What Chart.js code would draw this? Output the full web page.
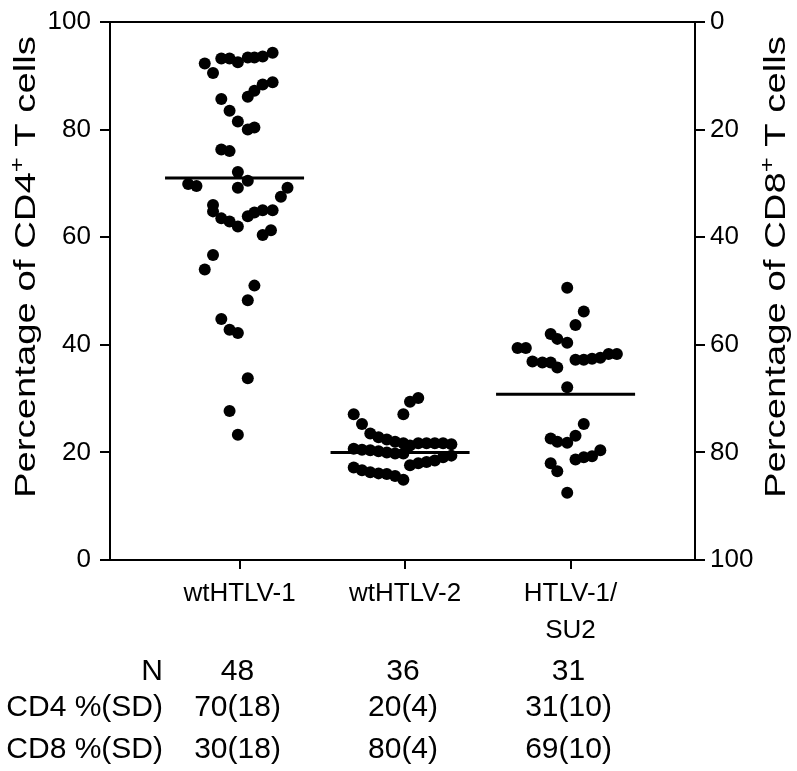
<!DOCTYPE html>
<html>
<head>
<meta charset="utf-8">
<script src="https://cdn.jsdelivr.net/npm/chart.js@4.4.0/dist/chart.umd.min.js"></script>
<style>
  body { margin: 0; background: #fff; }
  #wrap { width: 797px; height: 771px; }
</style>
</head>
<body>
<div id="wrap"><canvas id="chart" width="797" height="771"></canvas></div>
<script>
// categories and values
const categories = ["wtHTLV-1", "wtHTLV-2", ["HTLV-1/", "SU2"]];

// wtHTLV-1, % CD4+ T cells, with horizontal jitter (fraction of category spacing)
const wt1Values = [92.3, 90.5, 93.2, 93.2, 92.5, 93.4, 93.4, 93.6, 94.3, 85.7, 83.5, 81.5,
  80.0, 80.4, 86.1, 87.2, 88.4, 88.8, 76.3, 76.0, 72.1, 70.5, 69.2, 69.9, 69.5, 69.2, 67.5,
  66.0, 64.8, 63.5, 62.9, 62.0, 63.9, 64.6, 65.0, 65.0, 60.4, 61.3, 56.7, 54.0, 51.0, 48.3,
  44.8, 42.8, 42.2, 33.8, 27.7, 23.3];
const wt1Offsets = [-0.21, -0.16, -0.11, -0.06, -0.01, 0.05, 0.09, 0.14, 0.20, -0.11, -0.06, -0.01,
  0.05, 0.09, 0.05, 0.09, 0.14, 0.20, -0.11, -0.06, -0.01, 0.05, -0.01, -0.31, -0.26, 0.29, 0.25,
  -0.16, -0.16, -0.11, -0.06, -0.01, 0.05, 0.09, 0.14, 0.20, 0.14, 0.19, -0.16, -0.21, 0.09, 0.05,
  -0.11, -0.06, -0.01, 0.05, -0.06, -0.01];

// wtHTLV-2
const wt2Values = [27.1, 25.3, 27.1, 29.4, 30.1, 23.5, 22.8, 22.4, 22.0, 21.7, 21.3, 21.7,
  21.7, 21.7, 21.7, 21.5, 20.7, 20.5, 20.4, 20.2, 20.0, 19.8, 19.8, 17.6, 18.0, 18.2, 18.5,
  19.1, 19.4, 17.2, 16.7, 16.3, 16.1, 16.0, 15.6, 14.9];
const wt2Offsets = [-0.31, -0.26, -0.01, 0.03, 0.08, -0.21, -0.16, -0.11, -0.06, -0.01, 0.03, 0.08,
  0.13, 0.18, 0.23, 0.28, -0.31, -0.26, -0.21, -0.16, -0.11, -0.06, -0.01, 0.03, 0.08, 0.13, 0.18,
  0.23, 0.28, -0.31, -0.26, -0.21, -0.16, -0.11, -0.06, -0.01];

// HTLV-1/SU2
const su2Values = [50.6, 46.2, 43.7, 42.0, 41.1, 40.4, 39.4, 39.4, 36.9, 36.7, 36.7, 35.8,
  37.2, 37.2, 37.4, 37.6, 38.3, 38.3, 32.1, 25.3, 22.6, 22.0, 21.8, 23.1, 18.7, 19.1, 19.3,
  20.4, 18.0, 16.5, 12.5];
const su2Offsets = [-0.02, 0.08, 0.03, -0.12, -0.08, -0.02, -0.32, -0.27, -0.23, -0.17, -0.12, -0.08,
  0.03, 0.08, 0.13, 0.18, 0.23, 0.28, -0.02, 0.08, -0.12, -0.08, -0.02, 0.03, 0.03, 0.08, 0.13,
  0.18, -0.12, -0.08, -0.02];

const meanValues = [71.0, 20.0, 30.8];

// table under the plot
const rowLabels = ["N", "CD4 %(SD)", "CD8 %(SD)"];
const nCounts = ["48", "36", "31"];
const cd4Stats = ["70(18)", "20(4)", "31(10)"];
const cd8Stats = ["30(18)", "80(4)", "69(10)"];
const tableRows = [nCounts, cd4Stats, cd8Stats];

const FONT = "'Liberation Sans', Arial, Helvetica, sans-serif";

function toPoints(values, offsets, cat) {
  return values.map((v, i) => ({ x: cat + offsets[i], y: v }));
}

const dotStyle = {
  type: "scatter",
  backgroundColor: "#000",
  borderWidth: 0,
  pointRadius: 6,
  pointHoverRadius: 6,
};

const meanSets = meanValues.map((m, i) => ({
  type: "line",
  data: [{ x: i + 1 - 0.45, y: m }, { x: i + 1 + 0.39, y: m }],
  borderColor: "#000",
  borderWidth: 3,
  pointRadius: 0,
  showLine: true,
}));

// axis titles (rotated, with superscript +) and the stats table
const extras = {
  id: "extras",
  afterDraw(chart) {
    const ctx = chart.ctx;
    const area = chart.chartArea;
    const x = chart.scales.x;

    // top frame line
    ctx.save();
    ctx.strokeStyle = "#000";
    ctx.lineWidth = 2;
    ctx.beginPath();
    ctx.moveTo(area.left - 1, area.top);
    ctx.lineTo(area.right + 1, area.top);
    ctx.stroke();
    ctx.restore();

    function drawTitle(cx, cy, cellName) {
      const big = "30px " + FONT;
      const small = "20px " + FONT;
      const parts = [
        ["Percentage of " + cellName, big, 0],
        ["+", small, -11],
        [" T cells", big, 0],
      ];
      ctx.save();
      let total = 0;
      parts.forEach(p => { ctx.font = p[1]; total += ctx.measureText(p[0]).width; });
      const target = 462;
      ctx.translate(cx, cy);
      ctx.rotate(-Math.PI / 2);
      ctx.scale(target / total, 1);
      ctx.fillStyle = "#000";
      ctx.textBaseline = "alphabetic";
      ctx.textAlign = "left";
      let pos = -total / 2;
      parts.forEach(p => {
        ctx.font = p[1];
        ctx.fillText(p[0], pos, p[2]);
        pos += ctx.measureText(p[0]).width;
      });
      ctx.restore();
    }
    drawTitle(35, 267, "CD4");
    drawTitle(785, 267, "CD8");

    // table
    const baselines = [680, 716, 758];
    ctx.save();
    ctx.fillStyle = "#000";
    ctx.font = "30px " + FONT;
    ctx.textBaseline = "alphabetic";
    rowLabels.forEach((lab, r) => {
      ctx.textAlign = "right";
      ctx.fillText(lab, 163, baselines[r]);
      ctx.textAlign = "center";
      tableRows[r].forEach((txt, c) => {
        ctx.fillText(txt, x.getPixelForValue(c + 1) - 2, baselines[r]);
      });
    });
    ctx.restore();
  }
};

new Chart(document.getElementById("chart"), {
  data: {
    datasets: [
      Object.assign({ data: toPoints(wt1Values, wt1Offsets, 1) }, dotStyle),
      Object.assign({ data: toPoints(wt2Values, wt2Offsets, 2) }, dotStyle),
      Object.assign({ data: toPoints(su2Values, su2Offsets, 3) }, dotStyle),
      ...meanSets,
    ],
  },
  options: {
    responsive: false,
    animation: false,
    events: [],
    layout: { padding: { top: 14, left: 0, right: 0, bottom: 0 } },
    plugins: { legend: { display: false }, tooltip: { enabled: false } },
    scales: {
      x: {
        type: "linear",
        min: 0.2175,
        max: 3.752,
        afterBuildTicks: (s) => { s.ticks = [{ value: 1 }, { value: 2 }, { value: 3 }]; },
        afterFit: (s) => { s.height = 211; },
        border: { display: true, color: "#000", width: 2 },
        grid: { display: true, drawOnChartArea: false, drawTicks: true, tickLength: 9, color: "#000", lineWidth: 2 },
        ticks: {
          autoSkip: false,
          maxRotation: 0,
          padding: 7,
          color: "#000",
          font: { family: FONT, size: 26, lineHeight: 1.4 },
          callback: (v) => categories[v - 1],
        },
      },
      y: {
        position: "left",
        min: 0,
        max: 100,
        afterFit: (s) => { s.width = 110; },
        border: { display: true, color: "#000", width: 2 },
        grid: { display: true, drawOnChartArea: false, drawTicks: true, tickLength: 10, color: "#000", lineWidth: 2 },
        ticks: { stepSize: 20, padding: 9, color: "#000", font: { family: FONT, size: 26, lineHeight: 1 } },
      },
      y2: {
        position: "right",
        min: 0,
        max: 100,
        reverse: true,
        afterFit: (s) => { s.width = 102; },
        border: { display: true, color: "#000", width: 2 },
        grid: { display: true, drawOnChartArea: false, drawTicks: true, tickLength: 10, color: "#000", lineWidth: 2 },
        ticks: { stepSize: 20, padding: 5, color: "#000", font: { family: FONT, size: 26, lineHeight: 1 } },
      },
    },
  },
  plugins: [extras],
});
</script>
</body>
</html>
